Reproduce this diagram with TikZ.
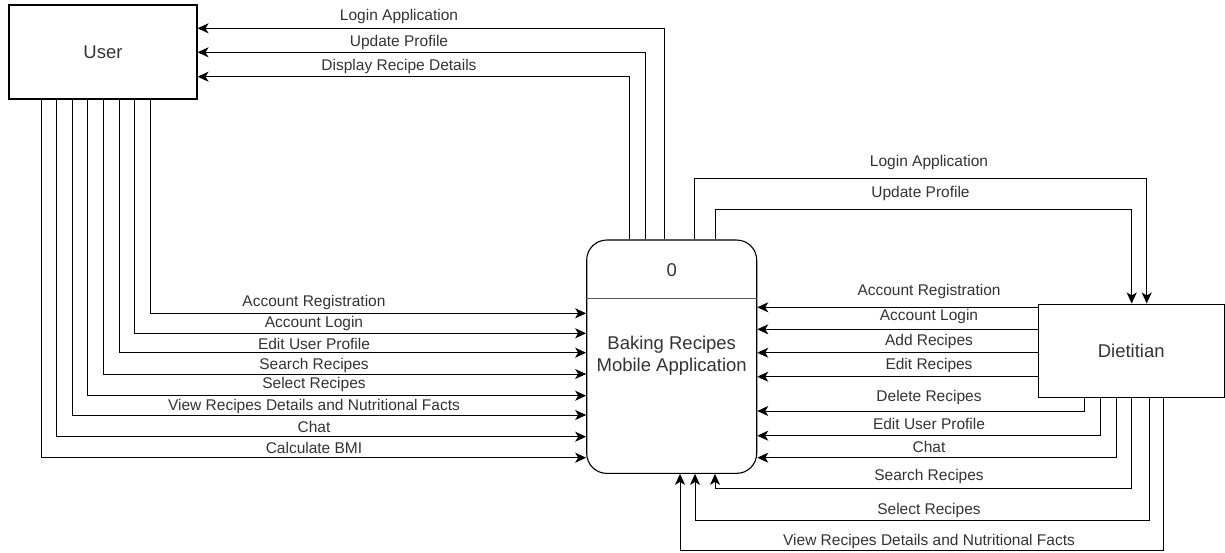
\documentclass[tikz,border=0pt]{standalone}
\usepackage{fontspec}
\setmainfont{Liberation Sans}
\usetikzlibrary{arrows.meta}

\begin{document}
\begin{tikzpicture}[x=1pt,y=-1pt,
	ent/.style={draw, line width=1.1pt, inner sep=0pt, text=black!80, font=\fontsize{18.5}{21.7}\selectfont},
	lbl/.style={inner sep=0pt, text=black!80, font=\fontsize{15.5}{18}\selectfont},
	flow/.style={line width=1pt, -{Stealth[length=11pt,width=10pt,inset=3pt]}}]
	\useasboundingbox (0,0) rectangle (1225,553);
	% Thực thể và tiến trình
	\node[ent, minimum width=188pt, minimum height=94pt] (user) at (103,52) {User};
	\node[ent, minimum width=185.7pt, minimum height=93.3pt] (diet) at (1131.2,350.7) {Dietitian};
	\node[ent, rounded corners=20pt, minimum width=170pt, minimum height=233.3pt] (proc) at (671.7,356.7) {};
	\draw[line width=1.5pt, gray!70!black] (proc.west |- 0,298.3) -- (proc.east |- 0,298.3);
	\node[lbl, font=\fontsize{18.5}{21.7}\selectfont] (pid) at (671.7,270) {0};
	\node[lbl, font=\fontsize{18.5}{21.7}\selectfont, align=center] (pname) at (671.7,356) {Baking Recipes\\Mobile Application};
	% Luồng về User
	\draw[flow] (proc.north -| 664,0) |- (user.east |- 0,28.3);
	\draw[flow] (proc.north -| 645.7,0) |- (user.east |- 0,52.3);
	\draw[flow] (proc.north -| 629,0) |- (user.east |- 0,76.7);
	\node[lbl] (uLogin) at (399,16) {Login Application};
	\node[lbl] (uUpd) at (399,42.7) {Update Profile};
	\node[lbl] (uDisp) at (399,66) {Display Recipe Details};
	% Luồng từ User
	\draw[flow] (user.south -| 150,0) |- (proc.west |- 0,313.3);
	\draw[flow] (user.south -| 134.7,0) |- (proc.west |- 0,333.3);
	\draw[flow] (user.south -| 119,0) |- (proc.west |- 0,352.7);
	\draw[flow] (user.south -| 103.3,0) |- (proc.west |- 0,374);
	\draw[flow] (user.south -| 87.7,0) |- (proc.west |- 0,395.7);
	\draw[flow] (user.south -| 72.3,0) |- (proc.west |- 0,415);
	\draw[flow] (user.south -| 56.7,0) |- (proc.west |- 0,436.7);
	\draw[flow] (user.south -| 41,0) |- (proc.west |- 0,457.7);
	\node[lbl] (uReg) at (314,302.7) {Account Registration};
	\node[lbl] (uAcc) at (314,323.3) {Account Login};
	\node[lbl] (uEdit) at (314,344.3) {Edit User Profile};
	\node[lbl] (uSearch) at (314,365) {Search Recipes};
	\node[lbl] (uSelect) at (314,384) {Select Recipes};
	\node[lbl] (uView) at (314,406.7) {View Recipes Details and Nutritional Facts};
	\node[lbl] (uChat) at (314,426.7) {Chat};
	\node[lbl] (uBmi) at (314,447.7) {Calculate BMI};
	% Luồng về Dietitian
	\draw[flow] (proc.north -| 694,0) |- (1146.7,178.3) -- (diet.north -| 1146.7,0);
	\draw[flow] (proc.north -| 715,0) |- (1131.7,210) -- (diet.north -| 1131.7,0);
	\node[lbl] (dLogin) at (929,162.7) {Login Application};
	\node[lbl] (dUpd) at (920.5,193.3) {Update Profile};
	% Luồng từ Dietitian
	\draw[flow] (diet.west |- 0,307.3) -- (proc.east |- 0,307.3);
	\draw[flow] (diet.west |- 0,329.3) -- (proc.east |- 0,329.3);
	\draw[flow] (diet.west |- 0,352.7) -- (proc.east |- 0,352.7);
	\draw[flow] (diet.west |- 0,376.7) -- (proc.east |- 0,376.7);
	\draw[flow] (diet.south -| 1084.3,0) |- (proc.east |- 0,411);
	\draw[flow] (diet.south -| 1100,0) |- (proc.east |- 0,435.7);
	\draw[flow] (diet.south -| 1116.7,0) |- (proc.east |- 0,457.7);
	\draw[flow] (diet.south -| 1131.7,0) -- (1131.7,488.3) -| (proc.south -| 715,0);
	\draw[flow] (diet.south -| 1149.3,0) -- (1149.3,520) -| (proc.south -| 695,0);
	\draw[flow] (diet.south -| 1163.3,0) -- (1163.3,550) -| (proc.south -| 680,0);
	\node[lbl] (dReg) at (929,291.7) {Account Registration};
	\node[lbl] (dAcc) at (929,316) {Account Login};
	\node[lbl] (dAdd) at (929,341.7) {Add Recipes};
	\node[lbl] (dEdit) at (929,365) {Edit Recipes};
	\node[lbl] (dDel) at (929,397.3) {Delete Recipes};
	\node[lbl] (dUser) at (929,424) {Edit User Profile};
	\node[lbl] (dChat) at (929,446.7) {Chat};
	\node[lbl] (dSearch) at (929,476.7) {Search Recipes};
	\node[lbl] (dSelect) at (929,510) {Select Recipes};
	\node[lbl] (dView) at (929,541) {View Recipes Details and Nutritional Facts};
\end{tikzpicture}
\end{document}
